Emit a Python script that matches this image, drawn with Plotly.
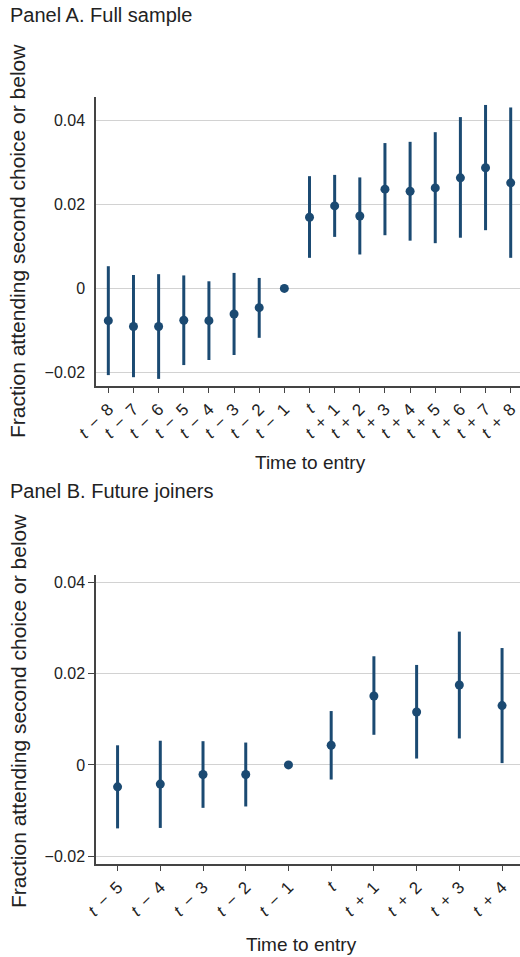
import plotly.graph_objects as go
import numpy as np

# ---------------- data ----------------
S = "\u00a0\u2009"  # wide spacing around the operator, as in the reference
labels_a = ["<i>t</i>" + S + "−" + S + "8", "<i>t</i>" + S + "−" + S + "7",
            "<i>t</i>" + S + "−" + S + "6", "<i>t</i>" + S + "−" + S + "5",
            "<i>t</i>" + S + "−" + S + "4", "<i>t</i>" + S + "−" + S + "3",
            "<i>t</i>" + S + "−" + S + "2", "<i>t</i>" + S + "−" + S + "1",
            "<i>t</i>",
            "<i>t</i>" + S + "+" + S + "1", "<i>t</i>" + S + "+" + S + "2",
            "<i>t</i>" + S + "+" + S + "3", "<i>t</i>" + S + "+" + S + "4",
            "<i>t</i>" + S + "+" + S + "5", "<i>t</i>" + S + "+" + S + "6",
            "<i>t</i>" + S + "+" + S + "7", "<i>t</i>" + S + "+" + S + "8"]
est_a = [-0.0077, -0.0091, -0.0091, -0.0076, -0.0077, -0.0061, -0.0046, 0.0,
         0.0170, 0.0197, 0.0173, 0.0237, 0.0232, 0.0240, 0.0264, 0.0288, 0.0252]
hi_a = [0.0053, 0.0032, 0.0034, 0.0031, 0.0017, 0.0037, 0.0025, 0.0,
        0.0268, 0.0271, 0.0265, 0.0347, 0.0350, 0.0373, 0.0409, 0.0438, 0.0432]
lo_a = [-0.0207, -0.0212, -0.0216, -0.0183, -0.0171, -0.0159, -0.0118, 0.0,
        0.0073, 0.0123, 0.0081, 0.0127, 0.0114, 0.0108, 0.0121, 0.0139, 0.0073]

labels_b = ["<i>t</i>" + S + "−" + S + "5", "<i>t</i>" + S + "−" + S + "4",
            "<i>t</i>" + S + "−" + S + "3", "<i>t</i>" + S + "−" + S + "2",
            "<i>t</i>" + S + "−" + S + "1", "<i>t</i>",
            "<i>t</i>" + S + "+" + S + "1", "<i>t</i>" + S + "+" + S + "2",
            "<i>t</i>" + S + "+" + S + "3", "<i>t</i>" + S + "+" + S + "4"]
est_b = [-0.0048, -0.0042, -0.0021, -0.0021, 0.0, 0.0043, 0.0151, 0.0116, 0.0175, 0.0130]
hi_b = [0.0043, 0.0053, 0.0052, 0.0049, 0.0, 0.0118, 0.0238, 0.0219, 0.0292, 0.0256]
lo_b = [-0.0139, -0.0138, -0.0094, -0.0091, 0.0, -0.0032, 0.0066, 0.0014, 0.0058, 0.0004]

y_tickvals = [-0.02, 0, 0.02, 0.04]
y_ticktext = ["−0.02", "0", "0.02", "0.04"]

panel_titles = ["Panel A. Full sample", "Panel B. Future joiners"]
y_title = "Fraction attending second choice or below"
x_title = "Time to entry"

# ---------------- styling ----------------
COL = "#1b4a72"
FONT = "Liberation Sans, Arial, Helvetica, sans-serif"
TXT = "#222222"
AX = "#444444"
W, H = 520, 957


def py(pix):
    return 1 - pix / H


fig = go.Figure()

xa = np.arange(len(labels_a))
ea = np.array(est_a)
fig.add_trace(go.Scatter(
    x=xa, y=ea, mode="markers",
    marker=dict(color=COL, size=9),
    error_y=dict(type="data", symmetric=False,
                 array=np.array(hi_a) - ea, arrayminus=ea - np.array(lo_a),
                 color=COL, thickness=3, width=0),
    xaxis="x", yaxis="y", showlegend=False, hoverinfo="skip"))

xb = np.arange(len(labels_b))
eb = np.array(est_b)
fig.add_trace(go.Scatter(
    x=xb, y=eb, mode="markers",
    marker=dict(color=COL, size=9),
    error_y=dict(type="data", symmetric=False,
                 array=np.array(hi_b) - eb, arrayminus=eb - np.array(lo_b),
                 color=COL, thickness=3, width=0),
    xaxis="x2", yaxis="y2", showlegend=False, hoverinfo="skip"))

xdom = [96 / W, 1.0]
common_x = dict(showline=True, linecolor=AX, linewidth=1.5, showgrid=False,
                zeroline=False, ticks="outside", ticklen=5, tickwidth=1,
                tickcolor=AX, tickangle=-45, automargin=False,
                tickfont=dict(family=FONT, size=17, color=TXT))
common_y = dict(showline=True, linecolor=AX, linewidth=1.5, showgrid=True,
                gridcolor="#d2d2d2", gridwidth=1, zeroline=False,
                tickvals=y_tickvals, ticktext=y_ticktext, ticks="outside",
                ticklen=6, tickwidth=1, automargin=False,
                tickfont=dict(family=FONT, size=16, color=TXT))

fig.update_layout(
    width=W, height=H,
    margin=dict(l=0, r=0, t=0, b=0),
    paper_bgcolor="white", plot_bgcolor="white",
    xaxis=dict(domain=xdom, anchor="y", range=[-0.49, len(labels_a) - 1 + 0.37],
               tickvals=list(xa), ticktext=labels_a, **common_x),
    yaxis=dict(domain=[py(386), py(97)], anchor="x", range=[-0.0233, 0.0457],
               tickcolor="rgba(0,0,0,0)", **common_y),
    xaxis2=dict(domain=xdom, anchor="y2", range=[-0.505, len(labels_b) - 1 + 0.42],
                tickvals=list(xb), ticktext=labels_b, **common_x),
    yaxis2=dict(domain=[py(864), py(575)], anchor="x2", range=[-0.0217, 0.0416],
                tickcolor=AX, **common_y),
)

ann = []
for txt, ypix in zip(panel_titles, [15, 491]):
    ann.append(dict(text=txt, x=8 / W, y=py(ypix), xref="paper", yref="paper",
                    xanchor="left", yanchor="middle", showarrow=False,
                    font=dict(family=FONT, size=20, color=TXT)))
for ypix in [241, 711]:
    ann.append(dict(text=y_title, x=18 / W, y=py(ypix), xref="paper", yref="paper",
                    xanchor="center", yanchor="middle", textangle=-90, showarrow=False,
                    font=dict(family=FONT, size=21, color=TXT)))
for xpix, ypix in [(310, 462), (301, 944)]:
    ann.append(dict(text=x_title, x=xpix / W, y=py(ypix), xref="paper", yref="paper",
                    xanchor="center", yanchor="middle", showarrow=False,
                    font=dict(family=FONT, size=19, color=TXT)))
fig.update_layout(annotations=ann)

fig.write_html("out.html")
